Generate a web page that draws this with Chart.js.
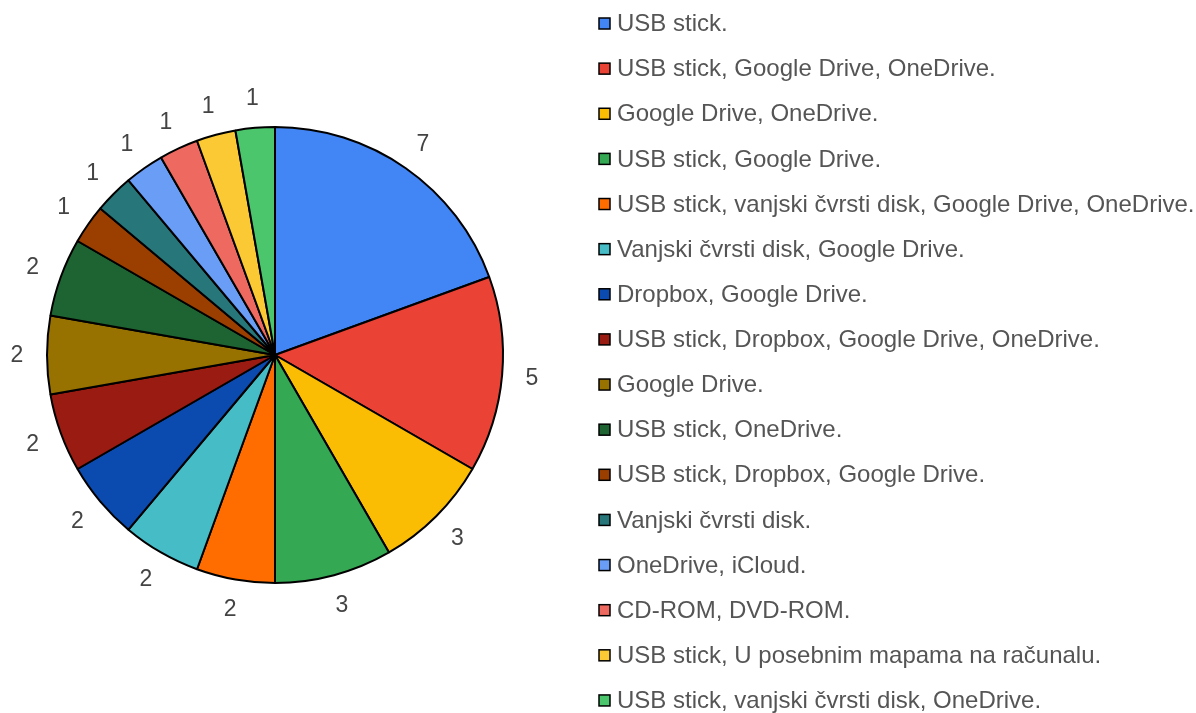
<!DOCTYPE html>
<html>
<head>
<meta charset="utf-8">
<script src="https://cdn.jsdelivr.net/npm/chart.js@4.4.0/dist/chart.umd.min.js"></script>
<style>
  html, body { margin: 0; padding: 0; background: #fff; }
  #wrap { width: 1196px; height: 713px; position: relative; }
</style>
</head>
<body>
<div id="wrap"><canvas id="myChart" width="1196" height="713"></canvas></div>
<script>
let categories = [
    "USB stick.",
    "USB stick, Google Drive, OneDrive.",
    "Google Drive, OneDrive.",
    "USB stick, Google Drive.",
    "USB stick, vanjski čvrsti disk, Google Drive, OneDrive.",
    "Vanjski čvrsti disk, Google Drive.",
    "Dropbox, Google Drive.",
    "USB stick, Dropbox, Google Drive, OneDrive.",
    "Google Drive.",
    "USB stick, OneDrive.",
    "USB stick, Dropbox, Google Drive.",
    "Vanjski čvrsti disk.",
    "OneDrive, iCloud.",
    "CD-ROM, DVD-ROM.",
    "USB stick, U posebnim mapama na računalu.",
    "USB stick, vanjski čvrsti disk, OneDrive."
];
let counts = [7, 5, 3, 3, 2, 2, 2, 2, 2, 2, 1, 1, 1, 1, 1, 1];
let colors = [
    "#4285F4", "#EA4335", "#FBBC04", "#34A853", "#FF6D01", "#46BDC6",
    "#0B4BB0", "#991B12", "#977200", "#1E6332", "#9A3F00", "#26767A",
    "#6A9DF6", "#EE6A60", "#FBC934", "#4BC66D"
];

// value labels outside the slices
let valueLabels = {
    id: "valueLabels",
    afterDatasetsDraw(chart) {
        let ctx = chart.ctx;
        let meta = chart.getDatasetMeta(0);
        ctx.save();
        ctx.font = "23px 'Liberation Sans', Arial, sans-serif";
        ctx.fillStyle = "#444444";
        ctx.textAlign = "center";
        ctx.textBaseline = "middle";
        meta.data.forEach((arc, i) => {
            let mid = (arc.startAngle + arc.endAngle) / 2;
            let r = arc.outerRadius + 30;
            ctx.fillText(String(counts[i]), arc.x + Math.cos(mid) * r, arc.y + Math.sin(mid) * r + 1);
        });
        ctx.restore();
    }
};

// single-column legend on the right
let sideLegend = {
    id: "sideLegend",
    afterDraw(chart) {
        let ctx = chart.ctx;
        let x0 = 599;
        let y0 = 23.5;
        let step = 45.13;
        ctx.save();
        ctx.font = "24px 'Liberation Sans', Arial, sans-serif";
        ctx.textBaseline = "middle";
        categories.forEach((name, i) => {
            let y = y0 + i * step;
            ctx.fillStyle = colors[i];
            ctx.fillRect(x0, y - 5.5, 11, 11);
            ctx.strokeStyle = "#000";
            ctx.lineWidth = 1.5;
            ctx.strokeRect(x0, y - 5.5, 11, 11);
            ctx.fillStyle = "#555555";
            ctx.fillText(name, x0 + 18, y + 1);
        });
        ctx.restore();
    }
};

let ctx = document.getElementById("myChart").getContext("2d");
let myChart = new Chart(ctx, {
    type: "pie",
    data: {
        labels: categories,
        datasets: [{
            data: counts,
            backgroundColor: colors,
            borderColor: "#000000",
            borderWidth: 2,
            hoverOffset: 0
        }]
    },
    options: {
        responsive: false,
        animation: false,
        layout: {
            padding: { left: 46, top: 126, right: 692, bottom: 129 }
        },
        plugins: {
            legend: { display: false },
            tooltip: { enabled: false }
        }
    },
    plugins: [valueLabels, sideLegend]
});
</script>
</body>
</html>
